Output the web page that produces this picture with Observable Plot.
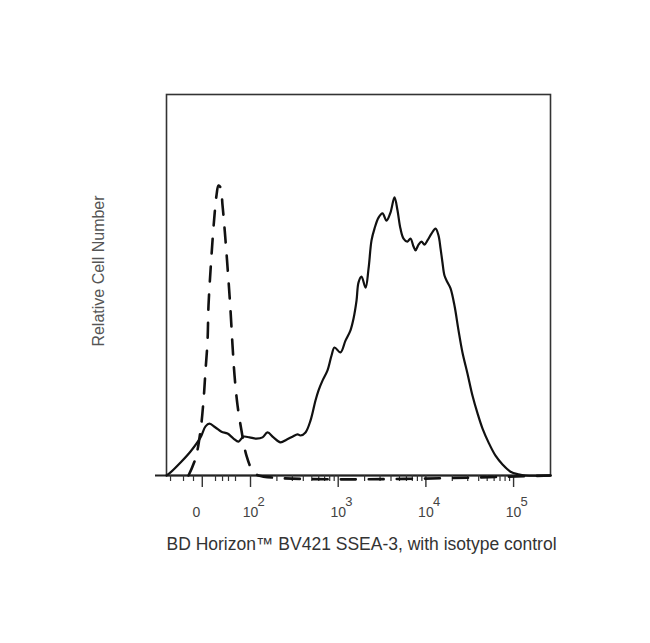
<!DOCTYPE html>
<html>
<head>
<meta charset="utf-8">
<script src="https://cdn.jsdelivr.net/npm/d3@7"></script>
<script src="https://cdn.jsdelivr.net/npm/@observablehq/plot@0.6"></script>
<style>
  html, body { margin: 0; padding: 0; background: #fff; }
  #chart svg { display: block; font-family: "Liberation Sans", Arial, sans-serif; }
</style>
</head>
<body>
<div id="chart"></div>
<script>
// x values are in "decade units" of the biexponential axis (2 = 10^2, 3 = 10^3, ...)
const stainedX = [1.042, 1.088, 1.202, 1.316, 1.430, 1.487, 1.532, 1.601, 1.669, 1.738, 1.806, 1.863, 1.920, 1.989, 2.068, 2.137, 2.194, 2.262, 2.342, 2.410, 2.479, 2.536, 2.570, 2.627, 2.684, 2.741, 2.775, 2.821, 2.878, 2.924, 2.958, 3.026, 3.083, 3.140, 3.175, 3.209, 3.232, 3.266, 3.312, 3.346, 3.380, 3.414, 3.460, 3.505, 3.551, 3.596, 3.642, 3.676, 3.710, 3.745, 3.790, 3.824, 3.859, 3.882, 3.916, 3.950, 3.984, 4.018, 4.064, 4.110, 4.144, 4.167, 4.189, 4.212, 4.246, 4.281, 4.326, 4.372, 4.417, 4.474, 4.531, 4.589, 4.646, 4.714, 4.794, 4.874, 4.965, 5.056, 5.136, 5.421];
const stainedY = [0, 0.8, 3.4, 6.3, 10.0, 12.9, 13.6, 12.6, 11.5, 11.0, 9.7, 8.9, 10.2, 10.0, 9.7, 10.0, 11.3, 10.0, 8.7, 9.4, 10.2, 10.8, 10.5, 11.3, 14.4, 19.7, 22.3, 24.9, 27.6, 31.5, 33.6, 32.3, 35.4, 38.1, 41.2, 45.9, 50.7, 52.2, 49.3, 54.3, 61.7, 64.8, 67.7, 68.8, 66.9, 69.0, 73.0, 69.6, 64.8, 62.2, 61.4, 62.2, 60.1, 59.1, 60.6, 61.4, 60.6, 61.7, 63.5, 64.8, 63.0, 59.6, 55.9, 52.5, 50.7, 49.1, 44.6, 38.1, 32.3, 26.8, 21.0, 16.3, 12.3, 8.7, 5.2, 2.9, 1.0, 0.3, 0, 0];

const isotypeX = [1.293, 1.373, 1.430, 1.464, 1.487, 1.510, 1.521, 1.544, 1.567, 1.589, 1.612, 1.635, 1.658, 1.681, 1.715, 1.749, 1.772, 1.795, 1.818, 1.852, 1.897, 1.954, 2.023, 2.091, 5.421];
const isotypeY = [0, 4.5, 11.8, 19.7, 27.6, 35.4, 44.6, 53.8, 61.7, 68.2, 73.5, 76.1, 75.6, 70.9, 61.7, 51.2, 43.3, 34.1, 26.2, 18.4, 11.8, 5.2, 1.3, 0, 0];

// axis ticks
const zeroTick = 1.45;
const decadeTicks = [2, 3, 4, 5];
const decadeExponents = ["2", "3", "4", "5"];
const minorMultipliers = [2, 3, 4, 5, 6, 7, 8, 9];
const minorDecades = [2, 3, 4];
const lowMinorTicks = [1.088, 1.236, 1.350, 1.601, 1.681, 1.749, 1.829];

const xTitle = "BD Horizon\u2122 BV421 SSEA-3, with isotype control";
const yTitle = "Relative Cell Number";

const stained = stainedX.map((x, i) => ({x, y: stainedY[i]}));
const isotype = isotypeX.map((x, i) => ({x, y: isotypeY[i]}));
const minorTicks = lowMinorTicks.concat(
  minorDecades.flatMap(k => minorMultipliers.map(m => k + Math.log10(m)))
);
const majorTicks = [zeroTick, ...decadeTicks];

const W = 650, H = 643;
const mL = 166, mR = 100, mT = 94, mB = 168;
const xDomain = [1.042, 5.421];
const yDomain = [0, 100];
const pxPerY = (H - mT - mB) / (yDomain[1] - yDomain[0]);
const majorLen = 12 / pxPerY, minorLen = 6 / pxPerY;
const pxPerX = (W - mL - mR) / (xDomain[1] - xDomain[0]);
const axisStart = xDomain[0] - 11 / pxPerX;

const chart = Plot.plot({
  width: W, height: H,
  marginLeft: mL, marginRight: mR, marginTop: mT, marginBottom: mB,
  x: {domain: xDomain, axis: null},
  y: {domain: yDomain, axis: null},
  marks: [
    Plot.frame({stroke: "#333", strokeWidth: 1.6}),
    Plot.ruleY([0], {x1: axisStart, x2: xDomain[1], stroke: "#222", strokeWidth: 1.8}),
    Plot.ruleX(minorTicks, {x: d => d, y1: 0, y2: -minorLen, stroke: "#333", strokeWidth: 1.2}),
    Plot.ruleX(majorTicks, {x: d => d, y1: 0, y2: -majorLen, stroke: "#333", strokeWidth: 1.4}),
    Plot.line(isotype, {x: "x", y: "y", stroke: "#111", strokeWidth: 2.6, strokeDasharray: "15,13", curve: "catmull-rom"}),
    Plot.line(stained, {x: "x", y: "y", stroke: "#111", strokeWidth: 2.2, curve: "catmull-rom"}),
    Plot.text(["0"], {x: [zeroTick], y: [0], dx: -6, dy: 37, fontSize: 14, fill: "#444", textAnchor: "middle"}),
    Plot.text(decadeTicks, {x: d => d, y: 0, text: () => "10", dy: 37, fontSize: 14, fill: "#444", textAnchor: "middle"}),
    Plot.text(decadeTicks, {x: d => d, y: 0, text: (d, i) => decadeExponents[i], dx: 7, dy: 26, fontSize: 13, fill: "#444", textAnchor: "start"}),
    Plot.text([xTitle], {frameAnchor: "bottom", dx: 3, dy: 74, fontSize: 17.5, fill: "#333", textAnchor: "middle"}),
    Plot.text([yTitle], {frameAnchor: "left", dx: -68, dy: -14, rotate: -90, fontSize: 16, fill: "#555", textAnchor: "middle"})
  ]
});
document.getElementById("chart").appendChild(chart);
</script>
</body>
</html>
